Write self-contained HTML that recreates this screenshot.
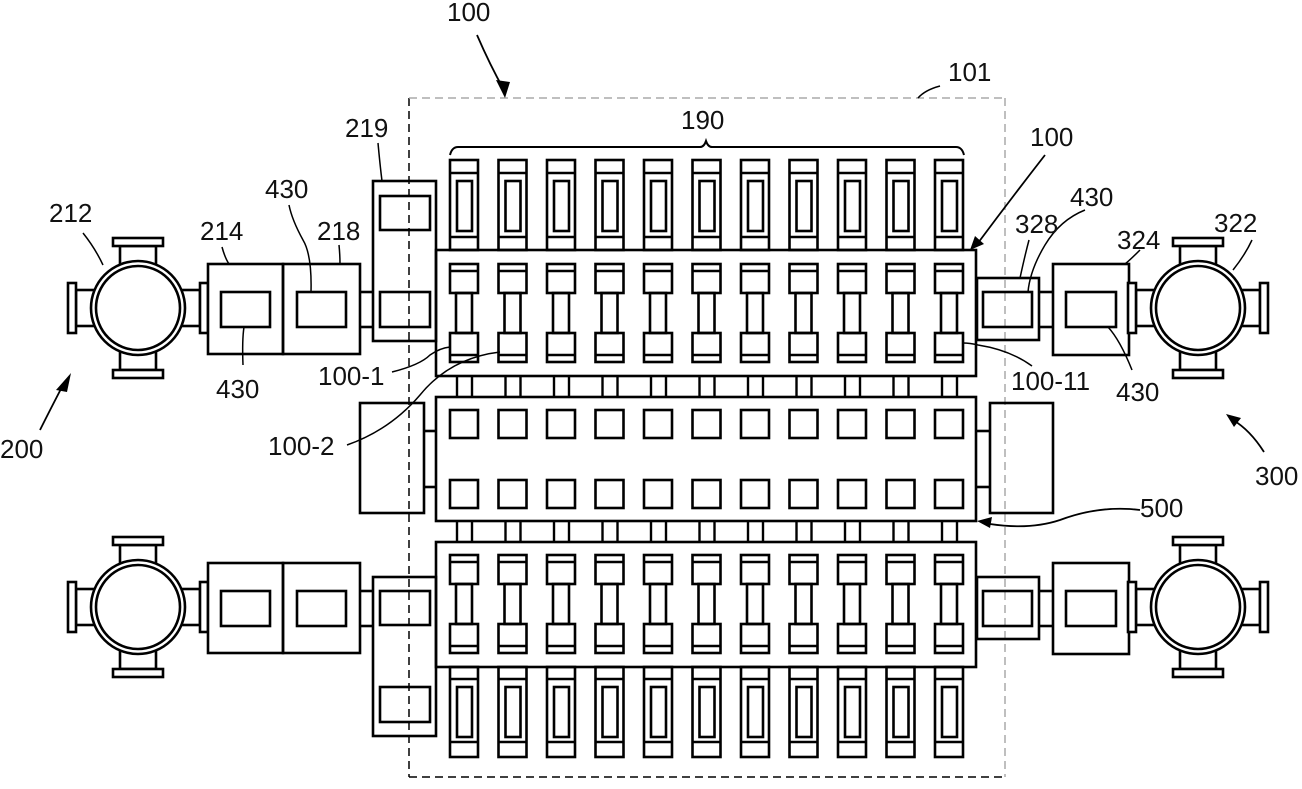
<!DOCTYPE html>
<html><head><meta charset="utf-8"><style>
html,body{margin:0;padding:0;background:#fff}
svg{display:block}
text{font-family:"Liberation Sans",sans-serif;font-size:26px;fill:#111}
</style></head><body>
<svg width="1302" height="789" viewBox="0 0 1302 789" xmlns="http://www.w3.org/2000/svg">
<defs>
<g id="tm" fill="none" stroke="#000" stroke-width="2.6">
 <rect x="0" y="160" width="28" height="90"/><line x1="0" y1="173" x2="28" y2="173"/><line x1="0" y1="237" x2="28" y2="237"/>
 <rect x="7" y="181" width="15" height="50"/>
</g>
<g id="bm" fill="none" stroke="#000" stroke-width="2.6">
 <rect x="0" y="667" width="28" height="90"/><line x1="0" y1="679" x2="28" y2="679"/><line x1="0" y1="742" x2="28" y2="742"/>
 <rect x="7" y="687" width="15" height="50"/>
</g>
<g id="cc" fill="none" stroke="#000" stroke-width="2.6">
 <rect x="0" y="0" width="28" height="29"/><line x1="0" y1="7" x2="28" y2="7"/>
 <rect x="6" y="29" width="16" height="40"/>
 <rect x="0" y="69" width="28" height="29"/><line x1="0" y1="91" x2="28" y2="91"/>
</g>
<g id="cn" stroke="#000" stroke-width="2.4">
 <line x1="7" y1="376" x2="7" y2="397"/><line x1="22" y1="376" x2="22" y2="397"/>
 <line x1="7" y1="521" x2="7" y2="542"/><line x1="22" y1="521" x2="22" y2="542"/>
</g>
<g id="sq" fill="none" stroke="#000" stroke-width="2.6">
 <rect x="0" y="410" width="28" height="28"/><rect x="0" y="480" width="28" height="28"/>
</g>
<g id="port" fill="#fff" stroke="#000" stroke-width="2.6">
 <rect x="-18" y="-62" width="36" height="20"/><rect x="-25" y="-70" width="50" height="8"/>
</g>
<g id="cross">
 <use href="#port"/><use href="#port" transform="rotate(90)"/><use href="#port" transform="rotate(180)"/><use href="#port" transform="rotate(270)"/>
 <circle r="47" fill="#fff" stroke="#000" stroke-width="2.6"/><circle r="42" fill="none" stroke="#000" stroke-width="2.6"/>
</g>
<g id="row" fill="none" stroke="#000" stroke-width="2.6">
 <use href="#cross" x="138" y="308"/>
 <rect x="208" y="264" width="75" height="90" fill="#fff"/><rect x="283" y="264" width="77" height="90"/>
 <rect x="221" y="292" width="49" height="35"/><rect x="297" y="292" width="49" height="35"/>
 <line x1="360" y1="292" x2="373" y2="292"/><line x1="360" y1="327" x2="373" y2="327"/>
 <rect x="977" y="278" width="62" height="62"/><rect x="983" y="292" width="49" height="35"/>
 <line x1="1039" y1="292" x2="1053" y2="292"/><line x1="1039" y1="327" x2="1053" y2="327"/>
 <rect x="1053" y="264" width="76" height="91" fill="#fff"/><rect x="1066" y="292" width="50" height="35"/>
 <use href="#cross" x="1198" y="308"/>
</g>
</defs>

<!-- dashed boundary 101 -->
<line x1="409" y1="98" x2="409" y2="777" stroke="#000" stroke-width="1.5" stroke-dasharray="8,5"/>
<line x1="409" y1="777" x2="1005" y2="777" stroke="#000" stroke-width="1.5" stroke-dasharray="8,5"/>
<line x1="409" y1="98" x2="1005" y2="98" stroke="#aaa" stroke-width="1.5" stroke-dasharray="8,5"/>
<line x1="1005" y1="98" x2="1005" y2="777" stroke="#aaa" stroke-width="1.5" stroke-dasharray="8,5"/>

<use href="#row"/>
<use href="#row" y="299"/>

<g fill="none" stroke="#000" stroke-width="2.6">
 <!-- 219 boxes -->
 <rect x="373" y="181" width="63" height="160"/><rect x="380" y="196" width="50" height="34"/><rect x="380" y="292" width="50" height="35"/>
 <rect x="373" y="577" width="63" height="159"/><rect x="380" y="591" width="50" height="34"/><rect x="380" y="687" width="50" height="35"/>
 <!-- chambers -->
 <rect x="436" y="250" width="540" height="126"/>
 <rect x="436" y="397" width="540" height="124"/>
 <rect x="436" y="542" width="540" height="125"/>
 <!-- 500 side boxes -->
 <rect x="360" y="403" width="64" height="110"/>
 <line x1="424" y1="431" x2="436" y2="431"/><line x1="424" y1="487" x2="436" y2="487"/>
 <rect x="990" y="403" width="63" height="110"/>
 <line x1="976" y1="431" x2="990" y2="431"/><line x1="976" y1="487" x2="990" y2="487"/>
</g>

<g>
<use href="#tm" x="450"/><use href="#tm" x="498.5"/><use href="#tm" x="547"/><use href="#tm" x="595.5"/><use href="#tm" x="644"/><use href="#tm" x="692.5"/><use href="#tm" x="741"/><use href="#tm" x="789.5"/><use href="#tm" x="838"/><use href="#tm" x="886.5"/><use href="#tm" x="935"/>
<use href="#bm" x="450"/><use href="#bm" x="498.5"/><use href="#bm" x="547"/><use href="#bm" x="595.5"/><use href="#bm" x="644"/><use href="#bm" x="692.5"/><use href="#bm" x="741"/><use href="#bm" x="789.5"/><use href="#bm" x="838"/><use href="#bm" x="886.5"/><use href="#bm" x="935"/>
<use href="#cn" x="450"/><use href="#cn" x="498.5"/><use href="#cn" x="547"/><use href="#cn" x="595.5"/><use href="#cn" x="644"/><use href="#cn" x="692.5"/><use href="#cn" x="741"/><use href="#cn" x="789.5"/><use href="#cn" x="838"/><use href="#cn" x="886.5"/><use href="#cn" x="935"/>
<use href="#sq" x="450"/><use href="#sq" x="498.5"/><use href="#sq" x="547"/><use href="#sq" x="595.5"/><use href="#sq" x="644"/><use href="#sq" x="692.5"/><use href="#sq" x="741"/><use href="#sq" x="789.5"/><use href="#sq" x="838"/><use href="#sq" x="886.5"/><use href="#sq" x="935"/>
<use href="#cc" x="450" y="264"/><use href="#cc" x="498.5" y="264"/><use href="#cc" x="547" y="264"/><use href="#cc" x="595.5" y="264"/><use href="#cc" x="644" y="264"/><use href="#cc" x="692.5" y="264"/><use href="#cc" x="741" y="264"/><use href="#cc" x="789.5" y="264"/><use href="#cc" x="838" y="264"/><use href="#cc" x="886.5" y="264"/><use href="#cc" x="935" y="264"/>
<use href="#cc" x="450" y="555"/><use href="#cc" x="498.5" y="555"/><use href="#cc" x="547" y="555"/><use href="#cc" x="595.5" y="555"/><use href="#cc" x="644" y="555"/><use href="#cc" x="692.5" y="555"/><use href="#cc" x="741" y="555"/><use href="#cc" x="789.5" y="555"/><use href="#cc" x="838" y="555"/><use href="#cc" x="886.5" y="555"/><use href="#cc" x="935" y="555"/>
</g>

<!-- brace 190 -->
<path d="M450,155 Q452,147 458,147 L700,147 Q704,147 706,141 Q708,147 712,147 L956,147 Q962,147 964,155" fill="none" stroke="#000" stroke-width="2"/>

<!-- leaders -->
<g fill="none" stroke="#000" stroke-width="1.5">
 <path d="M378,143 Q380,165 382,181"/>
 <path d="M83,233 Q95,248 103,265"/>
 <path d="M222,247 Q225,258 229,264"/>
 <path d="M289,205 Q292,220 303,240 Q312,255 311,292"/>
 <path d="M339,245 Q340,255 340,264"/>
 <path d="M244,327 Q242,340 243,365"/>
 <path d="M392,372 Q420,365 430,355 Q440,348 450,347"/>
 <path d="M347,445 Q390,430 420,395 Q450,358 500,352"/>
 <path d="M1029,240 Q1025,255 1020,278"/>
 <path d="M1085,210 Q1060,220 1045,245 Q1030,270 1028,292"/>
 <path d="M1140,250 Q1130,260 1125,264"/>
 <path d="M1252,240 Q1245,255 1233,270"/>
 <path d="M1108,327 Q1120,340 1132,370"/>
 <path d="M1032,366 Q1010,350 978,345 Q970,343 963,343"/>
 <path d="M940,86 Q925,90 918,98"/>
</g>

<!-- arrows -->
<g fill="none" stroke="#000" stroke-width="1.8">
 <path d="M477,35 Q490,65 504,90"/>
 <path d="M40,430 Q50,410 63,385"/>
 <path d="M1264,452 Q1250,430 1233,420"/>
 <path d="M1045,155 Q1010,200 978,243"/>
 <path d="M1140,510 Q1100,505 1060,520 Q1030,530 990,524"/>
</g>
<g fill="#000">
 <polygon points="505,98 496,80 510,82"/>
 <polygon points="71,373 56,390 67,392"/>
 <polygon points="1226,414 1234,427 1241,418"/>
 <polygon points="970,250 975,236 984,244"/>
 <polygon points="977,521 992,517 990,528"/>
</g>

<!-- labels -->
<text x="447" y="21">100</text>
<text x="948" y="81">101</text>
<text x="681" y="129">190</text>
<text x="345" y="137">219</text>
<text x="49" y="222">212</text>
<text x="200" y="240">214</text>
<text x="265" y="198">430</text>
<text x="317" y="240">218</text>
<text x="216" y="398">430</text>
<text x="318" y="385">100-1</text>
<text x="268" y="455">100-2</text>
<text x="0" y="458">200</text>
<text x="1030" y="146">100</text>
<text x="1015" y="233">328</text>
<text x="1070" y="206">430</text>
<text x="1117" y="249">324</text>
<text x="1214" y="232">322</text>
<text x="1011" y="390">100-11</text>
<text x="1116" y="401">430</text>
<text x="1255" y="485">300</text>
<text x="1140" y="517">500</text>
</svg>
</body></html>
